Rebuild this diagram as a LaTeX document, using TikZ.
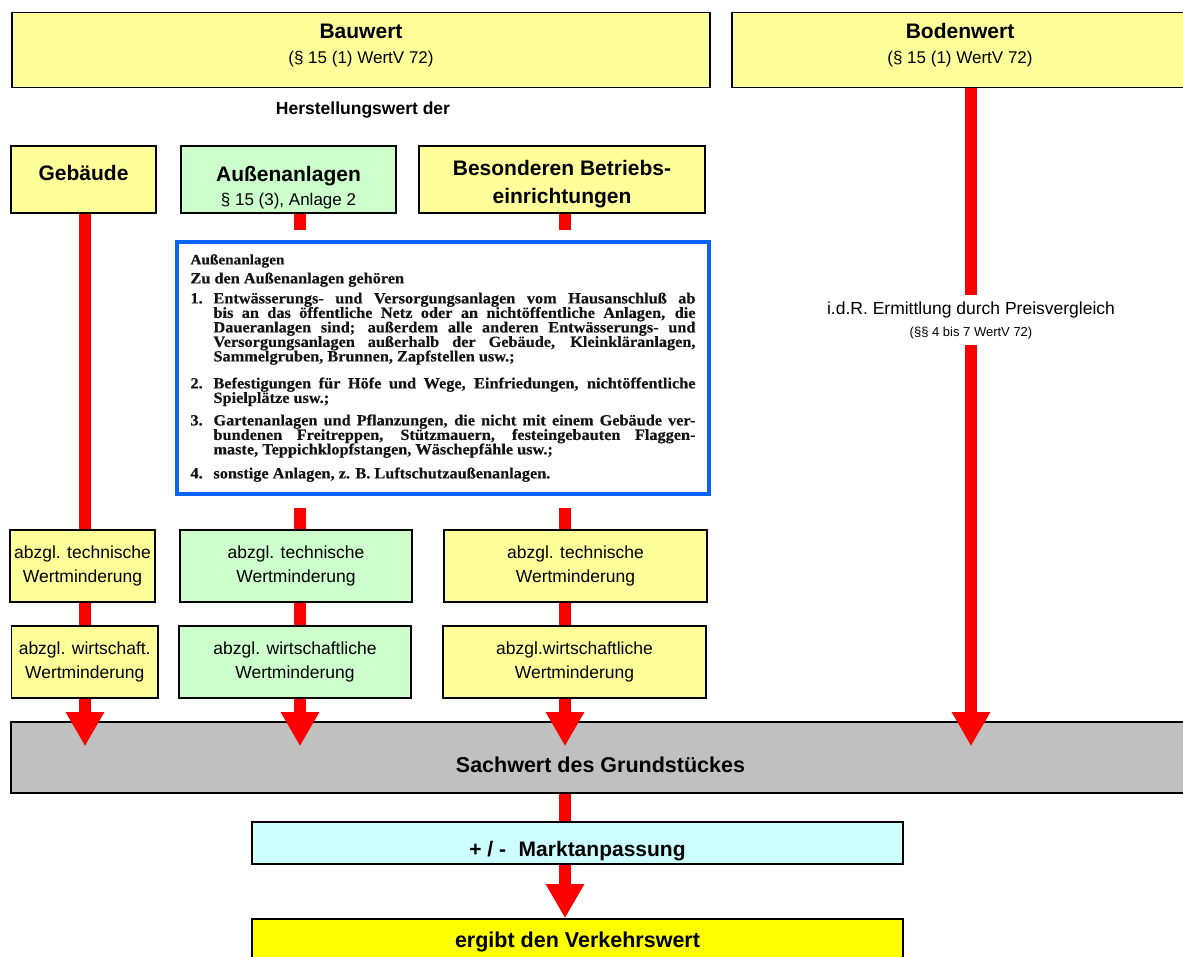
\documentclass[tikz,border=0pt]{standalone}
\usepackage{fontspec}
\setmainfont{Liberation Sans}
\newfontfamily\scanf[FakeStretch=1.05,FakeBold=0.4]{Liberation Serif}
\usetikzlibrary{arrows.meta,calc}
\definecolor{ly}{HTML}{FFFF99}
\definecolor{lg}{HTML}{CCFFCC}
\definecolor{gr}{HTML}{C0C0C0}
\definecolor{lc}{HTML}{CCFFFF}
\definecolor{yy}{HTML}{FFFF00}
\definecolor{bl}{HTML}{0A64F5}
\newcommand\fs[2]{\fontsize{#1}{#2}\selectfont}
\newcommand\topstrut[1]{\rule{0pt}{#1}}
\newcommand\botstrut[1]{\rule[-#1]{0pt}{0pt}}
\newcommand\jline[2]{\hbox to 505pt{\hbox to 23pt{#1\hfil}\hbox to 482pt{#2}}}
\newcommand\eline[2]{\hbox to 505pt{\hbox to 23pt{#1\hfil}#2\hfil}}
\begin{document}
\begin{tikzpicture}[x=1pt,y=-1pt,
  box/.style={draw=black,line width=1.6pt,inner sep=0pt,align=center},
  small/.style={font=\fs{17.5}{24}},
  shaft/.style={draw=red,line width=12pt},
  arr/.style={shaft,-{Triangle[width=36pt,length=34pt]}}]
\useasboundingbox (0,0) rectangle (1183,956);
% column coordinates
\coordinate (cA) at (85,0);
\coordinate (cB) at (300,0);
\coordinate (cC) at (565,0);
\coordinate (cD) at (971,0);
% top boxes
\node[box,fill=ly,minimum width=698pt,minimum height=75pt,font=\fs{17}{25}] (bau) at (361,50)
  {\topstrut{20pt}{\fs{21}{25}\bfseries Bauwert}\\(§ 15 (1) WertV 72)\botstrut{19pt}};
\node[box,fill=ly,minimum width=456pt,minimum height=75pt,font=\fs{17}{25}] (boden) at (960,50)
  {\topstrut{20pt}{\fs{21}{25}\bfseries Bodenwert}\\(§ 15 (1) WertV 72)\botstrut{19pt}};
\node[inner sep=0pt,font=\fs{17.5}{20}\bfseries] (herst) at (363,110) {Herstellungswert der};
\node[box,fill=ly,minimum width=145pt,minimum height=67pt,font=\fs{21}{25}\bfseries] (geb) at (83.5,179.5)
  {\topstrut{18pt}Gebäude\botstrut{16pt}};
\node[box,fill=lg,minimum width=215pt,minimum height=67pt,font=\fs{17}{24}] (aus) at (288.5,179.5)
  {\topstrut{32pt}{\fs{21}{24}\bfseries Außenanlagen}\\§ 15 (3), Anlage 2\botstrut{5pt}};
\node[box,fill=ly,minimum width=286pt,minimum height=67pt,font=\fs{21}{28}\bfseries] (bes) at (562,179.5)
  {\topstrut{26pt}Besonderen Betriebs-\\einrichtungen\botstrut{6pt}};
% scanned text box
\node[draw=bl,line width=3.5pt,fill=white,inner sep=0pt,minimum width=532pt,minimum height=252pt] (blue) at (443,368)
{\begin{minipage}{505pt}\scanf\bfseries\fs{15.5}{14.5}\color{black!92}%
\hbox{\fs{14.5}{14.5}Außenanlagen}\vskip 4.5pt
\hbox{Zu den Außenanlagen gehören}\vskip 5.5pt
\jline{1.}{Entwässerungs- und Versorgungsanlagen vom Hausanschluß ab}
\jline{}{bis an das öffentliche Netz oder an nichtöffentliche Anlagen, die}
\jline{}{Daueranlagen sind; außerdem alle anderen Entwässerungs- und}
\jline{}{Versorgungsanlagen außerhalb der Gebäude, Kleinkläranlagen,}
\eline{}{Sammelgruben, Brunnen, Zapfstellen usw.;}
\vskip 12.5pt
\jline{2.}{Befestigungen für Höfe und Wege, Einfriedungen, nichtöffentliche}
\eline{}{Spielplätze usw.;}
\vskip 8pt
\jline{3.}{Gartenanlagen und Pflanzungen, die nicht mit einem Gebäude ver-}
\jline{}{bundenen Freitreppen, Stützmauern, festeingebauten Flaggen-}
\eline{}{maste, Teppichklopfstangen, Wäschepfähle usw.;}
\vskip 9.5pt
\eline{4.}{sonstige Anlagen, z. B. Luftschutzaußenanlagen.}
\end{minipage}};
% reduction boxes
\node[box,fill=ly,small,minimum width=145pt,minimum height=72pt] (gtech) at (82.5,566) {abzgl. technische\\Wertminderung};
\node[box,fill=lg,small,minimum width=232pt,minimum height=72pt] (atech) at (296,566) {abzgl. technische\\Wertminderung};
\node[box,fill=ly,small,minimum width=263pt,minimum height=72pt] (btech) at (575.5,566) {abzgl. technische\\Wertminderung};
\node[box,fill=ly,small,minimum width=146.5pt,minimum height=72pt] (gwirt) at (84.75,662) {abzgl. wirtschaft.\\Wertminderung};
\node[box,fill=lg,small,minimum width=232pt,minimum height=72pt] (awirt) at (295,662) {abzgl. wirtschaftliche\\Wertminderung};
\node[box,fill=ly,small,minimum width=263pt,minimum height=72pt] (bwirt) at (574.5,662) {abzgl.wirtschaftliche\\Wertminderung};
% bottom boxes
\node[box,fill=gr,minimum width=1179pt,minimum height=71pt,font=\fs{21.5}{25}\bfseries] (sach) at (600.5,757.5)
  {\topstrut{36pt}Sachwert des Grundstückes\botstrut{6pt}};
\node[box,fill=lc,minimum width=651pt,minimum height=42pt,font=\fs{21}{25}\bfseries] (markt) at (577.5,843)
  {\topstrut{32pt}+ / -\hspace{0.6em}Marktanpassung\botstrut{6pt}};
\node[box,fill=yy,minimum width=651pt,minimum height=41pt,font=\fs{21.5}{25}\bfseries] (verk) at (577.5,939.5)
  {\topstrut{22pt}ergibt den Verkehrswert\botstrut{7pt}};
% label on Bodenwert arrow
\node[inner sep=0pt,minimum height=50pt,align=center,font=\fs{17.5}{22}] (lab) at (971,320)
  {i.d.R. Ermittlung durch Preisvergleich\\{\fs{13}{22}(§§ 4 bis 7 WertV 72)}};
% connectors
\draw[shaft] (geb.south -| cA) -- (gtech.north -| cA);
\draw[shaft] (gtech.south -| cA) -- (gwirt.north -| cA);
\draw[arr] (gwirt.south -| cA) -- ($(sach.north -| cA)+(0,25)$);
\draw[shaft,shorten >=10pt] (aus.south -| cB) -- (blue.north -| cB);
\draw[shaft,shorten <=12pt] (blue.south -| cB) -- (atech.north -| cB);
\draw[shaft] (atech.south -| cB) -- (awirt.north -| cB);
\draw[arr] (awirt.south -| cB) -- ($(sach.north -| cB)+(0,25)$);
\draw[shaft,shorten >=10pt] (bes.south -| cC) -- (blue.north -| cC);
\draw[shaft,shorten <=12pt] (blue.south -| cC) -- (btech.north -| cC);
\draw[shaft] (btech.south -| cC) -- (bwirt.north -| cC);
\draw[arr] (bwirt.south -| cC) -- ($(sach.north -| cC)+(0,25)$);
\draw[shaft] (boden.south -| cD) -- (lab.north -| cD);
\draw[arr] (lab.south -| cD) -- ($(sach.north -| cD)+(0,25)$);
\draw[shaft] (sach.south -| cC) -- (markt.north -| cC);
\draw[arr] (markt.south -| cC) -- (verk.north -| cC);
\end{tikzpicture}
\end{document}
